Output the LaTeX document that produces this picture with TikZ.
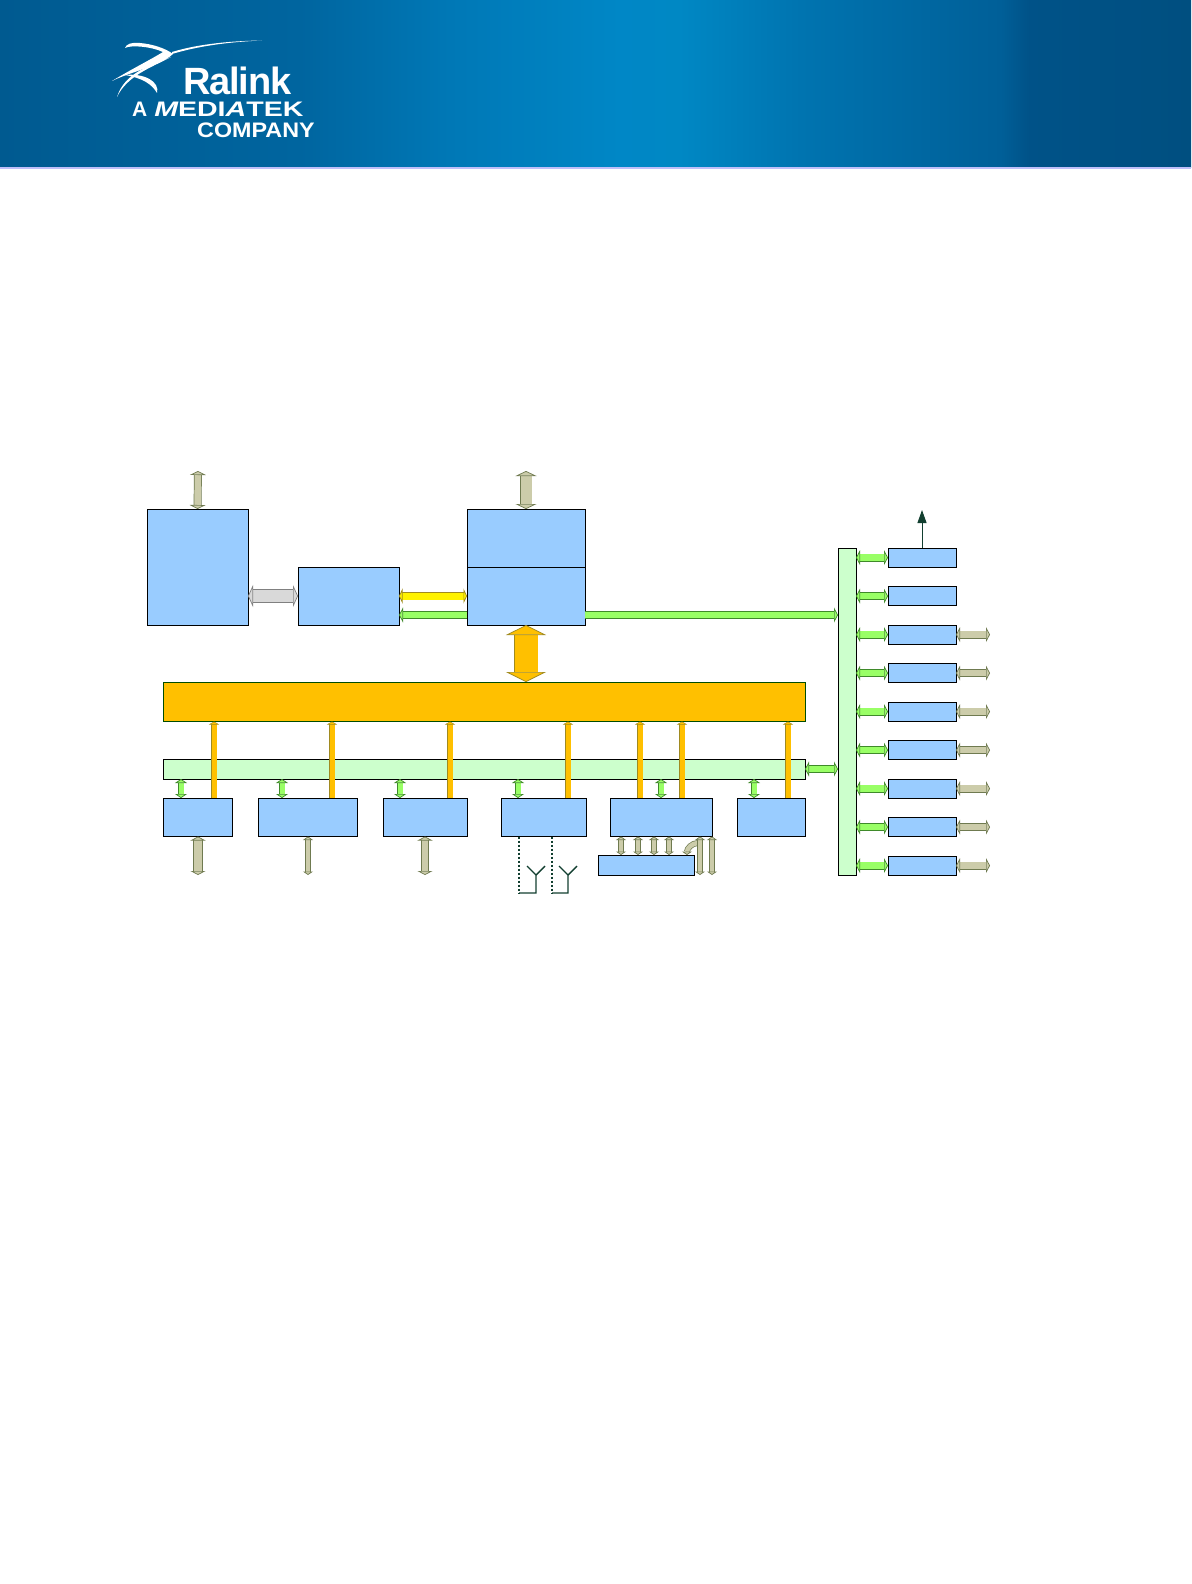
\documentclass[tikz,border=0pt]{standalone}
\usepackage{fontspec}
\setmainfont{Liberation Sans}
\usetikzlibrary{arrows.meta,positioning}
\definecolor{blkblue}{HTML}{99CCFF}
\definecolor{lightbus}{HTML}{CCFFCC}
\definecolor{mainbus}{HTML}{FFC000}
\definecolor{mainedge}{HTML}{A08A20}
\definecolor{lime}{HTML}{99FF66}
\definecolor{limeedge}{HTML}{3F8A2A}
\definecolor{tan}{HTML}{CCCCAA}
\definecolor{tanedge}{HTML}{6F7A50}
\definecolor{antgreen}{HTML}{123F30}
\pgfdeclarehorizontalshading{bannershade}{100bp}{
  rgb(0bp)=(0,.353,.565); rgb(25bp)=(0,.353,.565);
  rgb(37.6bp)=(0,.396,.624); rgb(43.9bp)=(0,.471,.714);
  rgb(51bp)=(0,.529,.776); rgb(53.5bp)=(0,.533,.769);
  rgb(58.6bp)=(0,.455,.69); rgb(67bp)=(0,.373,.596);
  rgb(68.2bp)=(0,.322,.533); rgb(75bp)=(0,.31,.502); rgb(100bp)=(0,.31,.502)}
\begin{document}
\begin{tikzpicture}[
  x=1pt, y=-1pt,
  blk/.style={rectangle, draw=black, line width=1pt, fill=blkblue, inner sep=0pt, outer sep=0pt},
  sideblk/.style={blk, minimum width=68pt, minimum height=19.2pt},
  lowblk/.style={blk, minimum height=38.5pt, anchor=north west},
  logotext/.style={inner sep=0pt, anchor=base west, text=white, font=\bfseries},
  greenarr/.style={draw=limeedge, double=lime, double distance=5pt, line width=0.7pt, >={Triangle[length=4pt,width=12pt,fill=lime]}},
  greenbig/.style={greenarr, double distance=6.5pt, >={Triangle[length=4pt,width=15pt,fill=lime]}},
  tanarr/.style={draw=tanedge, double=tan, double distance=6.5pt, line width=0.7pt, >={Triangle[length=4pt,width=15pt,fill=tan]}},
  tanthin/.style={tanarr, double distance=4.5pt, >={Triangle[length=3.5pt,width=10pt,fill=tan]}},
  mainarr/.style={draw=mainedge, double=mainbus, double distance=5pt, line width=0.5pt, >={Triangle[length=3pt,width=10pt,fill=mainbus]}},
  ant/.style={draw=antgreen, line width=1.4pt}
]
\useasboundingbox (0,0) rectangle (1191,1584);

% banner
\path[shading=bannershade] (0,0) rectangle (1191,167);
\fill[black!10!blue!25] (0,167) rectangle (1191,168.5);
\fill[white] (262,40.5) .. controls (225,41) and (195,45) .. (172,52) -- (172,54) .. controls (195,47) and (225,42) .. (262,40.5) -- cycle;
\fill[white] (125,48) .. controls (126,44) and (132,42) .. (140,43) .. controls (152,44) and (165,48) .. (173,54) .. controls (160,66) and (130,72) .. (112,81) .. controls (130,70) and (150,60) .. (163,52) .. controls (150,46) and (130,45) .. (125,48) -- cycle;
\fill[white] (171,57) .. controls (150,66) and (125,72) .. (117,97) .. controls (127,76) and (150,68) .. (171,57) -- cycle;
\fill[white] (125,75) .. controls (145,73) and (160,82) .. (157,93) .. controls (152,84) and (142,78) .. (125,75) -- cycle;
\node[logotext, font=\bfseries\fontsize{38}{38}\selectfont] (ralink) at (183,95) {\addfontfeature{LetterSpace=-3}Ralink};
\node[logotext, font=\bfseries\fontsize{21}{21}\selectfont] (logoa) at (132,117) {A};
\node[logotext, font=\bfseries\fontsize{21}{21}\selectfont, xscale=1.36] (mediatek) at (154,117) {{\itshape M}EDI{\itshape A}TEK};
\node[logotext, font=\bfseries\fontsize{21}{21}\selectfont, xscale=1.11] (company) at (197,137) {COMPANY};

% upper blocks
\node[blk, minimum width=101pt, minimum height=116pt, anchor=north west] (cpu) at (147,509) {};
\node[blk, minimum width=101pt, minimum height=58pt, right=50pt of cpu.south east, anchor=south west] (bridge) {};
\node[blk, minimum width=118pt, minimum height=58pt, right=68pt of bridge.south east, anchor=south west] (hub) {};
\node[blk, minimum width=118pt, minimum height=58pt, above=0pt of hub] (memctl) {};

% buses
\node[rectangle, draw=black!70!green, line width=0.8pt, fill=mainbus, minimum width=642pt, minimum height=39.5pt, inner sep=0pt, outer sep=0pt, anchor=north west] (mainbar) at (163,682) {};
\node[blk, fill=lightbus, minimum width=642pt, minimum height=20pt, below=37.5pt of mainbar] (peribar) {};
\node[blk, fill=lightbus, minimum width=18pt, minimum height=327pt, anchor=north west] (sidebar) at (838,548) {};

% lower blocks
\node[lowblk, minimum width=69pt] (low1) at (163,798) {};
\node[lowblk, minimum width=99pt] (low2) at (258,798) {};
\node[lowblk, minimum width=84pt] (low3) at (383,798) {};
\node[lowblk, minimum width=85pt] (low4) at (501,798) {};
\node[lowblk, minimum width=102pt] (low5) at (610,798) {};
\node[lowblk, minimum width=68pt] (low6) at (737,798) {};
\node[blk, minimum width=96pt, minimum height=20pt, anchor=north west] (lowsub) at (598,855) {};

% side blocks
\node[sideblk, anchor=north west] (side1) at (888,548) {};
\node[sideblk, below=19.3pt of side1] (side2) {};
\node[sideblk, below=19.3pt of side2] (side3) {};
\node[sideblk, below=19.3pt of side3] (side4) {};
\node[sideblk, below=19.3pt of side4] (side5) {};
\node[sideblk, below=19.3pt of side5] (side6) {};
\node[sideblk, below=19.3pt of side6] (side7) {};
\node[sideblk, below=19.3pt of side7] (side8) {};
\node[sideblk, below=19.3pt of side8] (side9) {};

% free ends
\coordinate (cpuio) at (198,471);
\coordinate (memio) at (526,471);
\coordinate (low1io) at (198,875);
\coordinate (low2io) at (308,875);
\coordinate (low3io) at (425,875);
\coordinate (pinsa) at (700,875);
\coordinate (pinsb) at (712,875);
\coordinate (pinbend) at (698,843);
\coordinate (irout) at (922,510);
\coordinate (ant1foot) at (519,893);
\coordinate (ant1mast) at (536,875);
\coordinate (ant2foot) at (552,893);
\coordinate (ant2mast) at (568,875);

% upper arrows
\draw[tanthin, double distance=6.5pt, >={Triangle[length=4pt,width=16pt,fill=tan]}, <->] (cpu.north) -- (cpuio);
\draw[tanarr, double distance=11pt, >={Triangle[length=5pt,width=21pt,fill=tan]}, <->] (memctl.north) -- (memio);
\draw[draw=black!50, double=black!15, double distance=12pt, line width=0.7pt, >={Triangle[length=5pt,width=22pt,fill=black!15]}, <->] (cpu.east |- 0,596) -- (bridge.west |- 0,596);
\draw[draw=mainedge, double=yellow, double distance=7pt, line width=0.7pt, >={Triangle[length=3.5pt,width=15pt,fill=yellow]}, <->] (bridge.east |- 0,596) -- (hub.west |- 0,596);
\draw[greenbig, ->] (hub.west |- 0,615) -- (bridge.east |- 0,615);
\draw[greenbig, ->] (hub.east |- 0,615) -- (sidebar.west |- 0,615);
\draw[draw=mainedge, double=mainbus, double distance=23pt, line width=0.7pt, >={Triangle[length=10pt,width=40pt,fill=mainbus]}, <->] (hub.south) -- (hub.south |- mainbar.north);
\draw[greenbig, <->] (peribar.east) -- (sidebar.west |- peribar.east);

% bus drops
\draw[greenarr, <->] (181,0 |- peribar.south) -- (181,0 |- low1.north);
\draw[greenarr, <->] (282,0 |- peribar.south) -- (282,0 |- low2.north);
\draw[greenarr, <->] (400,0 |- peribar.south) -- (400,0 |- low3.north);
\draw[greenarr, <->] (518,0 |- peribar.south) -- (518,0 |- low4.north);
\draw[greenarr, <->] (low5.north |- peribar.south) -- (low5.north);
\draw[greenarr, <->] (754,0 |- peribar.south) -- (754,0 |- low6.north);
\draw[mainarr, ->] (214,0 |- low1.north) -- (214,0 |- mainbar.south);
\draw[mainarr, ->] (332,0 |- low2.north) -- (332,0 |- mainbar.south);
\draw[mainarr, ->] (450,0 |- low3.north) -- (450,0 |- mainbar.south);
\draw[mainarr, ->] (568,0 |- low4.north) -- (568,0 |- mainbar.south);
\draw[mainarr, ->] (640,0 |- low5.north) -- (640,0 |- mainbar.south);
\draw[mainarr, ->] (682,0 |- low5.north) -- (682,0 |- mainbar.south);
\draw[mainarr, ->] (788,0 |- low6.north) -- (788,0 |- mainbar.south);

% lower arrows
\draw[tanarr, double distance=8pt, <->] (low1.south -| low1io) -- (low1io);
\draw[tanthin, <->] (low2.south -| low2io) -- (low2io);
\draw[tanarr, <->] (low3.south -| low3io) -- (low3io);
\draw[tanthin, <->] (621,0 |- low5.south) -- (621,0 |- lowsub.north);
\draw[tanthin, <->] (638,0 |- low5.south) -- (638,0 |- lowsub.north);
\draw[tanthin, <->] (654,0 |- low5.south) -- (654,0 |- lowsub.north);
\draw[tanthin, <->] (669,0 |- low5.south) -- (669,0 |- lowsub.north);
\draw[tanthin, ->] (pinbend) to[out=180,in=90] (687,0 |- lowsub.north);
\draw[tanthin, <->] (low5.south -| pinsa) -- (pinsa);
\draw[tanthin, <->] (low5.south -| pinsb) -- (pinsb);

% antennas
\draw[ant, dashed, dash pattern=on 2pt off 2pt] (low4.south -| ant1foot) -- (ant1foot);
\draw[ant] (ant1foot) -| (ant1mast) -- ++(-9,-9) (ant1mast) -- ++(9,-9);
\draw[ant, dashed, dash pattern=on 2pt off 2pt] (low4.south -| ant2foot) -- (ant2foot);
\draw[ant] (ant2foot) -| (ant2mast) -- ++(-9,-9) (ant2mast) -- ++(9,-9);

% side arrows
\draw[draw=antgreen, line width=1pt, -{Triangle[length=13pt,width=9pt,fill=antgreen]}] (side1.north) -- (irout);
\draw[greenbig, <->] (sidebar.east |- side1.west) -- (side1.west);
\draw[greenbig, <->] (sidebar.east |- side2.west) -- (side2.west);
\draw[greenbig, <->] (sidebar.east |- side3.west) -- (side3.west);
\draw[greenbig, <->] (sidebar.east |- side4.west) -- (side4.west);
\draw[greenbig, <->] (sidebar.east |- side5.west) -- (side5.west);
\draw[greenbig, <->] (sidebar.east |- side6.west) -- (side6.west);
\draw[greenbig, <->] (sidebar.east |- side7.west) -- (side7.west);
\draw[greenbig, <->] (sidebar.east |- side8.west) -- (side8.west);
\draw[greenbig, <->] (sidebar.east |- side9.west) -- (side9.west);
\draw[tanarr, <->] (side3.east) -- ++(34,0);
\draw[tanarr, <->] (side4.east) -- ++(34,0);
\draw[tanarr, <->] (side5.east) -- ++(34,0);
\draw[tanarr, <->] (side6.east) -- ++(34,0);
\draw[tanarr, <->] (side7.east) -- ++(34,0);
\draw[tanarr, <->] (side8.east) -- ++(34,0);
\draw[tanarr, <->] (side9.east) -- ++(34,0);
\end{tikzpicture}
\end{document}
